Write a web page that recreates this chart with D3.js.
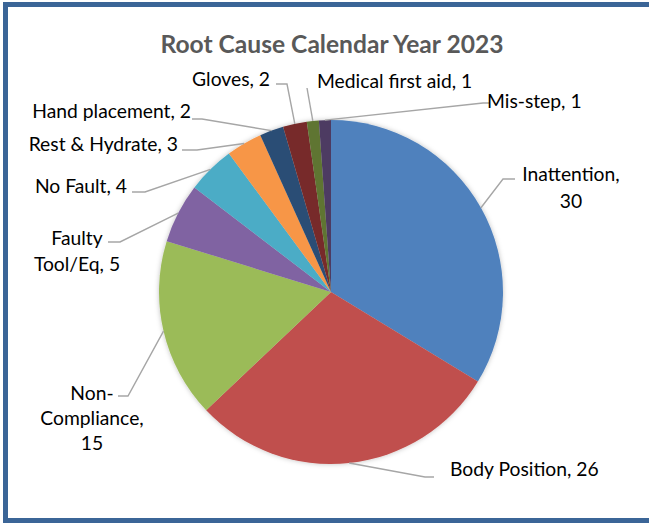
<!DOCTYPE html>
<html>
<head>
<meta charset="utf-8">
<script src="https://cdn.jsdelivr.net/npm/d3@7"></script>
<style>
  html, body { margin: 0; padding: 0; background: #fff; }
  svg { display: block; }
</style>
</head>
<body>
<svg id="chart" width="649" height="523"></svg>
<script>
// ---- data ----
const categories = ["Inattention", "Body Position", "Non-Compliance", "Faulty Tool/Eq", "No Fault",
                    "Rest & Hydrate", "Hand placement", "Gloves", "Medical first aid", "Mis-step"];
const values = [30, 26, 15, 5, 4, 3, 2, 2, 1, 1];
const colors = ["#4F81BD", "#C0504D", "#9BBB59", "#8064A2", "#4BACC6",
                "#F79646", "#2C4D75", "#772C2A", "#5F7530", "#4D3B62"];
const title = "Root Cause Calendar Year 2023";

// ---- layout (label placement, not data) ----
const labelLayout = [
  { anchor: "middle", x: 571, y: [173, 200], split: [", "], elbow: [503, 179], end: [515, 179] },
  { anchor: "start",  x: 450, y: [468], split: [], elbow: [425, 477], end: [434, 477] },
  { anchor: "middle", x: 92,  y: [392, 417, 442], split: ["-", ", "], elbow: [128, 396], end: [118, 396] },
  { anchor: "middle", x: 77,  y: [237, 263], split: [" "], elbow: [120, 242], end: [108, 242] },
  { anchor: "end",    x: 127, y: [185], split: [], elbow: [145, 192], end: [132, 192] },
  { anchor: "end",    x: 178, y: [143], split: [], elbow: [197, 150], end: [182, 150] },
  { anchor: "end",    x: 191, y: [110], split: [], elbow: [202, 119], end: [192, 119] },
  { anchor: "end",    x: 270, y: [78],  split: [], elbow: [287, 84],  end: [276, 84] },
  { anchor: "start",  x: 317, y: [80],  split: [], elbow: [307, 88],  end: [307, 88] },
  { anchor: "start",  x: 487, y: [100], split: [], elbow: [483, 103], end: [490, 103] }
];

const W = 649, H = 523;
const cx = 331, cy = 292, R = 172;
const svg = d3.select("#chart");

// frame
svg.append("rect").attr("x", 5.5).attr("y", 4.5).attr("width", W + 10).attr("height", H - 7)
  .attr("fill", "#fff").attr("stroke", "#3B6597").attr("stroke-width", 5);

// shadow filter
const defs = svg.append("defs");
const f = defs.append("filter").attr("id", "sh").attr("x", "-20%").attr("y", "-20%").attr("width", "140%").attr("height", "140%");
f.append("feDropShadow").attr("dx", 0).attr("dy", 0).attr("stdDeviation", 2.5)
  .attr("flood-color", "#000").attr("flood-opacity", 0.25);

// title
svg.append("text").attr("x", 332).attr("y", 43).attr("text-anchor", "middle")
  .attr("dominant-baseline", "central")
  .attr("font-family", "Lato, 'DejaVu Sans', sans-serif").attr("font-weight", "bold")
  .attr("font-size", 24.6).attr("fill", "#595959").text(title);

const data = categories.map((c, i) => ({ cat: c, value: values[i], color: colors[i], i }));
const pie = d3.pie().sort(null).value(d => d.value).startAngle(0).endAngle(2 * Math.PI);
const arcs = pie(data);
const arc = d3.arc().innerRadius(0).outerRadius(R);

const g = svg.append("g").attr("transform", `translate(${cx},${cy})`);
g.append("g").attr("filter", "url(#sh)")
  .selectAll("path").data(arcs).join("path")
  .attr("d", arc).attr("fill", d => d.data.color);

// leader lines
arcs.forEach(a => {
  const L = labelLayout[a.data.i];
  const mid = (a.startAngle + a.endAngle) / 2;
  const sx = cx + R * Math.sin(mid), sy = cy - R * Math.cos(mid);
  const pts = [[sx, sy], L.elbow, L.end];
  svg.append("path").attr("d", d3.line()(pts)).attr("fill", "none")
    .attr("stroke", "#A6A6A6").attr("stroke-width", 1.4);
});

// labels
function splitLabel(str, seps) {
  let parts = [str];
  seps.forEach(sep => {
    const last = parts.pop();
    const k = last.indexOf(sep);
    if (k < 0) { parts.push(last); return; }
    const keep = sep.trim();
    parts.push(last.slice(0, k) + keep, last.slice(k + sep.length).trimStart());
  });
  return parts;
}
arcs.forEach(a => {
  const L = labelLayout[a.data.i];
  const lines = splitLabel(`${a.data.cat}, ${a.data.value}`, L.split);
  const t = svg.append("text").attr("text-anchor", L.anchor)
    .attr("font-family", "Lato, 'DejaVu Sans', sans-serif").attr("font-size", 19.3)
    .attr("fill", "#000");
  lines.forEach((ln, j) => {
    t.append("tspan").attr("x", L.x).attr("y", L.y[j]).attr("dominant-baseline", "central").text(ln);
  });
});
</script>
</body>
</html>
